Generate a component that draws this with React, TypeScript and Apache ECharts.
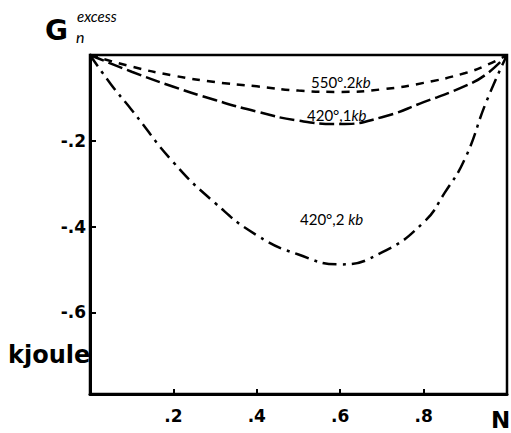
import React, { useEffect, useRef } from "react";
import * as echarts from "echarts";

const xA = [0, 0.1, 0.2, 0.3, 0.4, 0.5, 0.6, 0.7, 0.8, 0.9, 0.95, 1];
const g550_2kb = [0, -0.027, -0.048, -0.063, -0.073, -0.083, -0.086, -0.08, -0.065, -0.042, -0.024, 0];
const g420_1kb = [0, -0.039, -0.074, -0.105, -0.132, -0.153, -0.161, -0.145, -0.11, -0.072, -0.045, 0];
const xB = [0, 0.05, 0.1, 0.2, 0.3, 0.4, 0.5, 0.6, 0.7, 0.8, 0.85, 0.9, 0.95, 1];
const g420_2kb = [0, -0.068, -0.128, -0.25, -0.345, -0.42, -0.465, -0.488, -0.46, -0.39, -0.322, -0.24, -0.11, 0];

const xTicks = [0.2, 0.4, 0.6, 0.8];
const yTicks = [-0.2, -0.4, -0.6];

const FONT = "'DejaVu Sans', sans-serif";
const LFONT = "Lato, 'DejaVu Sans', sans-serif";

function pairs(xs: number[], ys: number[]) {
  return xs.map((x, i) => [x, ys[i]]);
}

function fmt(v: number) {
  const s = String(Math.abs(v)).replace(/^0\./, ".");
  return (v < 0 ? "-" : "") + s;
}

export default function App() {
  const ref = useRef<HTMLDivElement>(null);
  useEffect(() => {
    if (!ref.current) return;
    const chart = echarts.init(ref.current, null, { renderer: "svg" });
    const lineBase = { type: "line", smooth: 0.5, showSymbol: false, symbol: "none" };
    const rich = { i: { fontStyle: "italic", fontSize: 15, fontFamily: LFONT } };
    chart.setOption({
      animation: false,
      backgroundColor: "#fff",
      grid: {
        left: 90,
        right: 4,
        top: 55,
        bottom: 39,
        show: true,
        borderColor: "#000",
        borderWidth: 2.5,
      },
      xAxis: {
        type: "value",
        position: "bottom",
        min: 0,
        max: 1,
        interval: 0.2,
        splitLine: { show: false },
        axisLine: { show: true, onZero: false, lineStyle: { color: "#000", width: 3 } },
        axisTick: { show: true, inside: true, length: 5, lineStyle: { color: "#000", width: 2 } },
        axisLabel: {
          customValues: xTicks,
          formatter: (v: number) => fmt(v),
          color: "#000",
          fontSize: 17,
          fontWeight: "bold",
          fontFamily: FONT,
          margin: 13,
        },
      },
      yAxis: {
        type: "value",
        min: -0.79,
        max: 0,
        splitLine: { show: false },
        axisLine: { show: true, onZero: false, lineStyle: { color: "#000", width: 3 } },
        axisTick: { show: true, inside: true, length: 6, customValues: yTicks, lineStyle: { color: "#000", width: 2 } },
        axisLabel: {
          customValues: yTicks,
          formatter: (v: number) => fmt(v),
          color: "#000",
          fontSize: 17,
          fontWeight: "bold",
          fontFamily: FONT,
          margin: 4,
        },
      },
      series: [
        {
          ...lineBase,
          name: "550°.2kb",
          data: pairs(xA, g550_2kb),
          lineStyle: { color: "#000", width: 2.5, type: [8, 7] },
        },
        {
          ...lineBase,
          name: "420°,1kb",
          data: pairs(xA, g420_1kb),
          lineStyle: { color: "#000", width: 2.5, type: [15, 5] },
        },
        {
          ...lineBase,
          name: "420°,2kb",
          data: pairs(xB, g420_2kb),
          lineStyle: { color: "#000", width: 2.5, type: [14, 6, 3, 6] },
        },
      ],
      graphic: [
        {
          type: "text",
          left: 45,
          top: 16,
          style: { text: "G", font: `bold 28px ${FONT}`, fill: "#000" },
        },
        {
          type: "text",
          left: 77,
          top: 8,
          style: { text: "excess", font: `italic 15px ${LFONT}`, fill: "#000" },
        },
        {
          type: "text",
          left: 76,
          top: 28,
          style: { text: "n", font: `italic 16px ${LFONT}`, fill: "#000" },
        },
        {
          type: "text",
          left: 8,
          top: 343,
          style: { text: "kjoule", font: `bold 24px ${FONT}`, fill: "#000" },
        },
        {
          type: "text",
          left: 491,
          top: 408,
          style: { text: "N", font: `bold 23px ${FONT}`, fill: "#000" },
        },
        {
          type: "text",
          left: 311,
          top: 74,
          style: { text: "550°.2{i|kb}", font: `15px ${LFONT}`, fill: "#000", rich },
        },
        {
          type: "text",
          left: 307,
          top: 107,
          style: { text: "420°,1{i|kb}", font: `15px ${LFONT}`, fill: "#000", rich },
        },
        {
          type: "text",
          left: 300,
          top: 211,
          style: { text: "420°,2 {i|kb}", font: `15px ${LFONT}`, fill: "#000", rich },
        },
      ],
    });
    return () => chart.dispose();
  }, []);
  return (
    <div
      ref={ref}
      style={{ position: "fixed", left: 0, top: 0, width: 511, height: 433, background: "#fff" }}
    />
  );
}
